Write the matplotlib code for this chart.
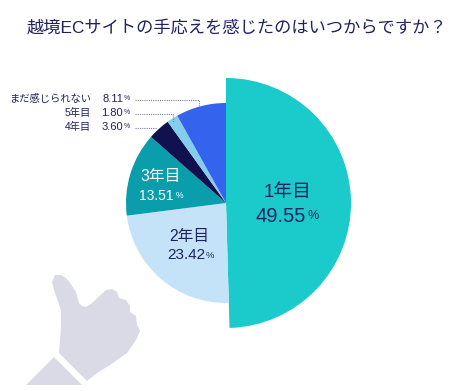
import matplotlib
matplotlib.use('Agg')
import matplotlib.pyplot as plt
from matplotlib.patches import Polygon

plt.rcParams['font.family'] = ['Liberation Sans', 'Noto Sans CJK JP', 'DejaVu Sans']

title = '越境ECサイトの手応えを感じたのはいつからですか？'
labels = ['1年目', '2年目', '3年目', '4年目', '5年目', 'まだ感じられない']
values = [49.55, 23.42, 13.51, 3.60, 1.80, 8.11]
colors = ['#1bcbcb', '#c5e3f8', '#0a9dab', '#10124f', '#84cdec', '#3463ee']

navy = '#1f2260'
W, H = 452, 391

fig = plt.figure(figsize=(W / 100, H / 100), dpi=100)
ax = fig.add_axes([0, 0, 1, 1])


def py(y):
    # picture coords are measured from the top
    return H - y


def pct(x, y, val, size, col, gap):
    # number plus a small percent sign, right edge at x
    ax.text(x, py(y), '%', fontsize=size * 0.62, color=col, ha='right', va='center')
    ax.text(x - gap, py(y), f'{val:.2f}', fontsize=size, color=col, ha='right', va='center')


wedges, _ = ax.pie(values, colors=colors, startangle=90, counterclock=False,
                   center=(226, py(203)), radius=100, frame=False,
                   wedgeprops={'linewidth': 0})
wedges[0].set_radius(125)
ax.set_xlim(0, W)
ax.set_ylim(0, H)
ax.set_aspect('auto')
ax.axis('off')

ax.text(237, py(28), title, fontsize=12.4, color=navy, ha='center', va='center')

# big labels inside the slices
ax.text(288, py(192), labels[0], fontsize=13.5, color=navy, ha='center', va='center')
pct(319, 216, values[0], 14.5, navy, 13)
ax.text(189, py(237), labels[1], fontsize=11.3, color=navy, ha='center', va='center')
pct(214, 255, values[1], 11, navy, 9)
ax.text(161, py(176), labels[2], fontsize=11.3, color='white', ha='center', va='center')
pct(183, 196, values[2], 10, 'white', 9)

# small labels with leader lines
rows = [(5, 99.5, [(135, 100), (199, 100), (199, 106)]),
        (4, 113.5, [(135, 113.5), (173, 113.5), (173, 122)]),
        (3, 128, [(135, 128), (157, 128)])]
for idx, y, line in rows:
    ax.text(91, py(y - 1), labels[idx], fontsize=7.4, color=navy, ha='right', va='center')
    pct(130, y - 1, values[idx], 8, navy, 7)
    ax.plot([p[0] for p in line], [py(p[1]) for p in line], color='#7c7f9e',
            lw=0.8, ls=(0, (1, 1)))

# thumbs up
hand = [(52, 282), (55, 275), (61, 275), (66, 278), (70, 283), (76, 292), (79, 303),
        (82, 306), (86, 307), (92, 303), (106, 290), (112, 289), (117, 292), (119, 298),
        (126, 300), (130, 306), (130, 312), (136, 316), (137, 325), (140, 331), (136, 340),
        (127, 353), (110, 365), (97, 373), (87, 381), (59, 353), (61, 327), (61, 310), (55, 293)]
sleeve = [(54, 357), (82, 385), (26, 385)]
for shape in (hand, sleeve):
    ax.add_patch(Polygon([(x, py(y)) for x, y in shape], closed=True,
                         facecolor='#d9dae6', edgecolor='none'))

fig.savefig('out.png', dpi=100)
